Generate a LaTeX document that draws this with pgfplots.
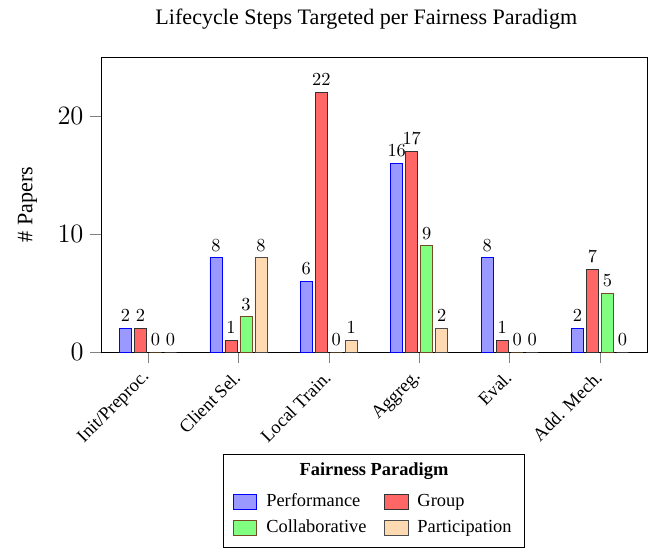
\documentclass[border=0pt]{standalone}
\usepackage{fontspec}
\setmainfont{Liberation Serif}
\usepackage{pgfplots}
\pgfplotsset{compat=1.18}
\usetikzlibrary{fit}
\pgfplotsset{my legend/.style={legend image code/.code={\draw[##1] (0pt,-4.2pt) rectangle (12.8pt,4.2pt);}}}
\begin{document}
\begin{tikzpicture}
\begin{axis}[
  scale only axis, width=296.7pt, height=160.3pt,
  ybar=1.65pt, bar width=6.5pt,
  xmin=-0.52, xmax=5.52, ymin=0, ymax=25,
  xtick={0,1,2,3,4,5},
  xticklabels={Init/Preproc., Client Sel., Local Train., Aggreg., Eval., Add. Mech.},
  xticklabel style={rotate=45, anchor=east, font=\normalsize, yshift=-4pt, xshift=-1.5pt},
  ytick={0,10,20}, yticklabel style={font=\Large},
  tick align=outside, xtick pos=lower, ytick pos=left,
  major tick length=6pt, tick style={gray},
  ylabel={\# Papers},
  ylabel style={font=\large, at={(axis description cs:-0.1348,0.5)}, anchor=center},
  title={Lifecycle Steps Targeted per Fairness Paradigm},
  title style={font=\large, at={(axis description cs:0.486,1.09)}, anchor=center},
  nodes near coords,
  every node near coord/.append style={font=\normalsize, black},
  legend style={draw=none, fill=none, at={(0.5,-0.455)}, anchor=north,
    name=leg, font=\normalsize, row sep=1.6pt,
    /tikz/every odd column/.append style={column sep=3pt},
    /tikz/every even column/.append style={column sep=7.5pt}},
  legend columns=2, legend cell align=left,
  my legend,
]
\addplot[draw=blue, fill=blue!40] coordinates {(0,2) (1,8) (2,6) (3,16) (4,8) (5,2)};
\addlegendentry{Performance}
\addplot[draw=black!80, fill=red!60] coordinates {(0,2) (1,1) (2,22) (3,17) (4,1) (5,7)};
\addlegendentry{Group}
\addplot[draw=brown!60!black, fill=green!50] coordinates {(0,0) (1,3) (2,0) (3,9) (4,0) (5,5)};
\addlegendentry{Collaborative}
\addplot[draw=black!70, fill=orange!30] coordinates {(0,0) (1,8) (2,1) (3,2) (4,0) (5,0)};
\addlegendentry{Participation}
\end{axis}
\node[font=\bfseries, anchor=south, inner sep=2pt] (lt) at ([yshift=1.5pt]leg.north) {Fairness Paradigm};
\node[draw, fit=(leg)(lt), inner sep=2pt] {};
\pgfresetboundingbox
\path[use as bounding box] ([shift={(-54.9pt,-106.5pt)}]current axis.south west) rectangle ([shift={(4.35pt,31pt)}]current axis.north east);
\end{tikzpicture}
\end{document}
